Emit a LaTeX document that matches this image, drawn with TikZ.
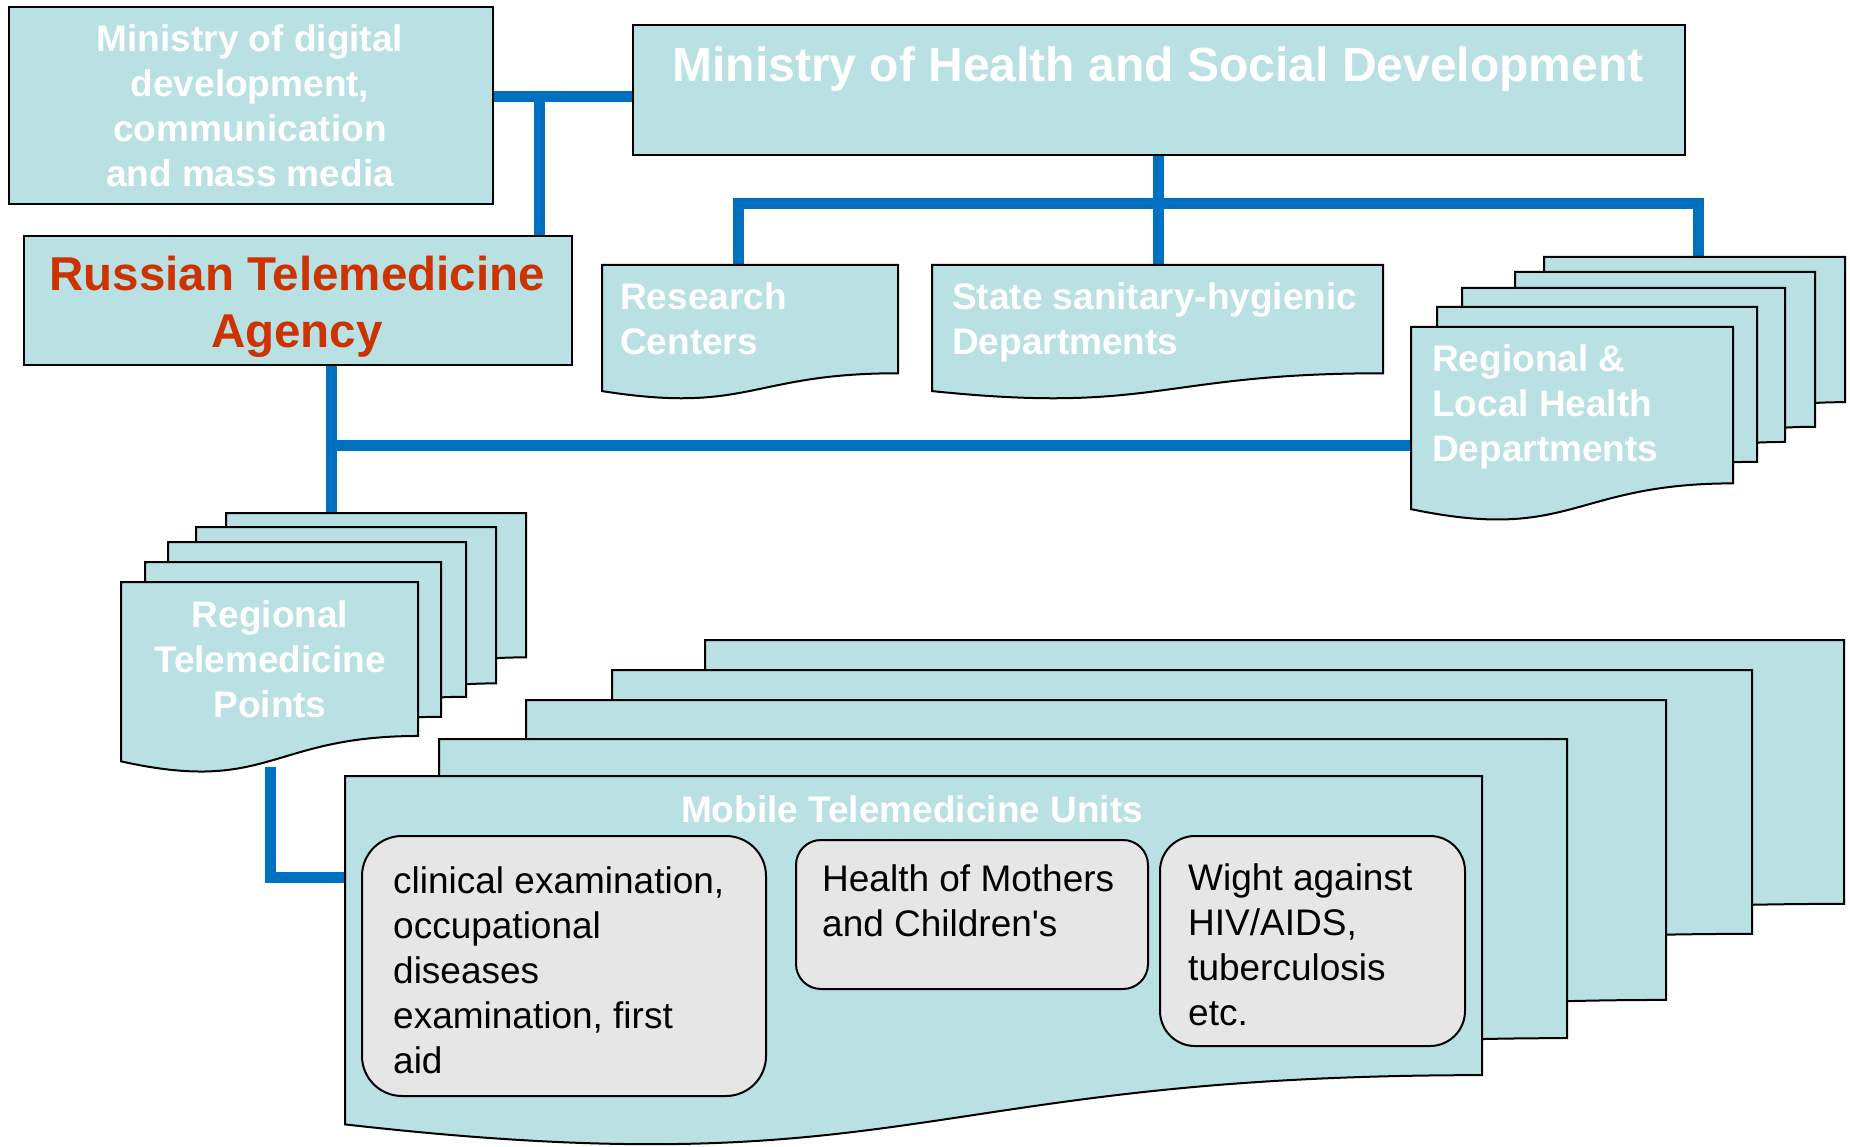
\documentclass[tikz,border=0pt]{standalone}
\usepackage{fontspec}
\setmainfont{Liberation Sans}
\definecolor{fillc}{RGB}{185,224,227}
\definecolor{linec}{RGB}{0,112,192}
\definecolor{redc}{RGB}{204,51,0}
\definecolor{grayc}{RGB}{230,230,230}
\tikzset{
  box/.style={draw=black, line width=2pt, fill=fillc, inner sep=0pt, anchor=north west},
  doc/.style={draw=black, line width=2pt, fill=fillc, line join=miter},
  gbox/.style={draw=black, line width=2pt, fill=grayc, inner sep=0pt, anchor=north west},
  conn/.style={draw=linec, line width=11pt, line join=miter},
  wtxt/.style={text=white, font=\fontsize{37}{45}\selectfont\bfseries, inner sep=0pt},
  btxt/.style={text=black, font=\fontsize{37}{45}\selectfont, inner sep=0pt, anchor=base west, align=left},
}
\newcommand{\docshape}[4]{%
  \filldraw[doc] (#1,#2) -- (#3,#2) -- (#3,{#2+0.802*(#4-#2)})
    .. controls ({(#1+#3)/2},{#2+0.802*(#4-#2)}) and ({(#1+#3)/2},{#2+1.107*(#4-#2)}) ..
    (#1,{#2+0.934*(#4-#2)}) -- cycle;}
\begin{document}
\begin{tikzpicture}[x=1pt,y=-1pt]
\useasboundingbox (0,0) rectangle (1850,1147);
\fill[white] (0,0) rectangle (1850,1147);

% connection coordinates
\coordinate (mdd-r) at (492,97);
\coordinate (moh-l) at (632,97);
\coordinate (ag-top) at (539,235);
\coordinate (moh-b) at (1158,154);
\coordinate (bus) at (1158,204);
\coordinate (rc-top) at (738,265);
\coordinate (ss-top) at (1158,265);
\coordinate (rl-top) at (1698,257);
\coordinate (ag-out) at (331,364);
\coordinate (rl-left) at (1411,445);
\coordinate (rtp-top) at (331,513);
\coordinate (rtp-out) at (270,767);
\coordinate (mob-in) at (345,877);

% connectors
\draw[conn] (mdd-r) -- (moh-l);
\draw[conn] (ag-top) -- (ag-top |- mdd-r);
\draw[conn] (moh-b) -- (ss-top);
\draw[conn] (rc-top) |- (bus) -| (rl-top);
\draw[conn] (ag-out) -- (rtp-top);
\draw[conn] (ag-out |- rl-left) -- (rl-left);
\draw[conn] (rtp-out) |- (mob-in);

% top boxes (multi-line text nodes are anchored at the baseline of their last line)
\node[box, minimum width=484pt, minimum height=197pt] (mdd) at (8,6) {};
\node[wtxt, align=center, anchor=base] (mddtxt) at (250,187)
  {Ministry of digital\\development,\\communication\\and mass media};

\node[box, minimum width=1052pt, minimum height=130pt] (moh) at (632,24) {};
\node[wtxt, font=\fontsize{48}{58}\selectfont\bfseries, anchor=base] (mohtxt) at (1158,82)
  {Ministry of Health and Social Development};

\node[box, minimum width=548pt, minimum height=129pt] (agency) at (23,235) {};
\node[inner sep=0pt, text=redc, font=\fontsize{47.5}{57}\selectfont\bfseries, align=center, anchor=base] (agtxt) at (297,348)
  {Russian Telemedicine\\Agency};

% research / sanitary
\docshape{602}{265}{898}{400}
\node[wtxt, align=left, anchor=base west] (rctxt) at (620,355) {Research\\Centers};
\docshape{932}{265}{1383}{400}
\node[wtxt, align=left, anchor=base west] (sstxt) at (952,355) {State sanitary-hygienic\\Departments};

% regional & local
\docshape{1544}{257}{1845}{438}
\docshape{1515}{272}{1815}{465}
\docshape{1462}{288}{1785}{480}
\docshape{1437}{307}{1757}{500}
\docshape{1411}{327}{1733}{522}
\node[wtxt, align=left, anchor=base west] (rltxt) at (1432,461) {Regional \&\\Local Health\\Departments};

% regional telemedicine points
\docshape{226}{513}{526}{693}
\docshape{196}{527}{496}{722}
\docshape{168}{542}{466}{735}
\docshape{145}{562}{441}{755}
\docshape{121}{582}{418}{774}
\node[wtxt, align=center, anchor=base] (rtptxt) at (270,717) {Regional\\Telemedicine\\Points};

% mobile units
\docshape{705}{640}{1844}{969}
\docshape{612}{670}{1752}{999}
\docshape{526}{700}{1666}{1074}
\docshape{439}{739}{1567}{1112}
\docshape{345}{776}{1482}{1149}
\node[wtxt, anchor=base] (mobtxt) at (912,822) {Mobile Telemedicine Units};

\node[gbox, rounded corners=40pt, minimum width=404pt, minimum height=260pt] (b1) at (361,835) {};
\node[btxt] (b1txt) at (393,1073) {clinical examination,\\occupational\\diseases\\examination, first\\aid};
\node[gbox, rounded corners=25pt, minimum width=352pt, minimum height=149pt] (b2) at (795,839) {};
\node[btxt] (b2txt) at (822,936) {Health of Mothers\\and Children\textquotesingle s};
\node[gbox, rounded corners=35pt, minimum width=305pt, minimum height=210pt] (b3) at (1159,835) {};
\node[btxt] (b3txt) at (1188,1025) {Wight against\\HIV/AIDS,\\tuberculosis\\etc.};
\end{tikzpicture}
\end{document}
